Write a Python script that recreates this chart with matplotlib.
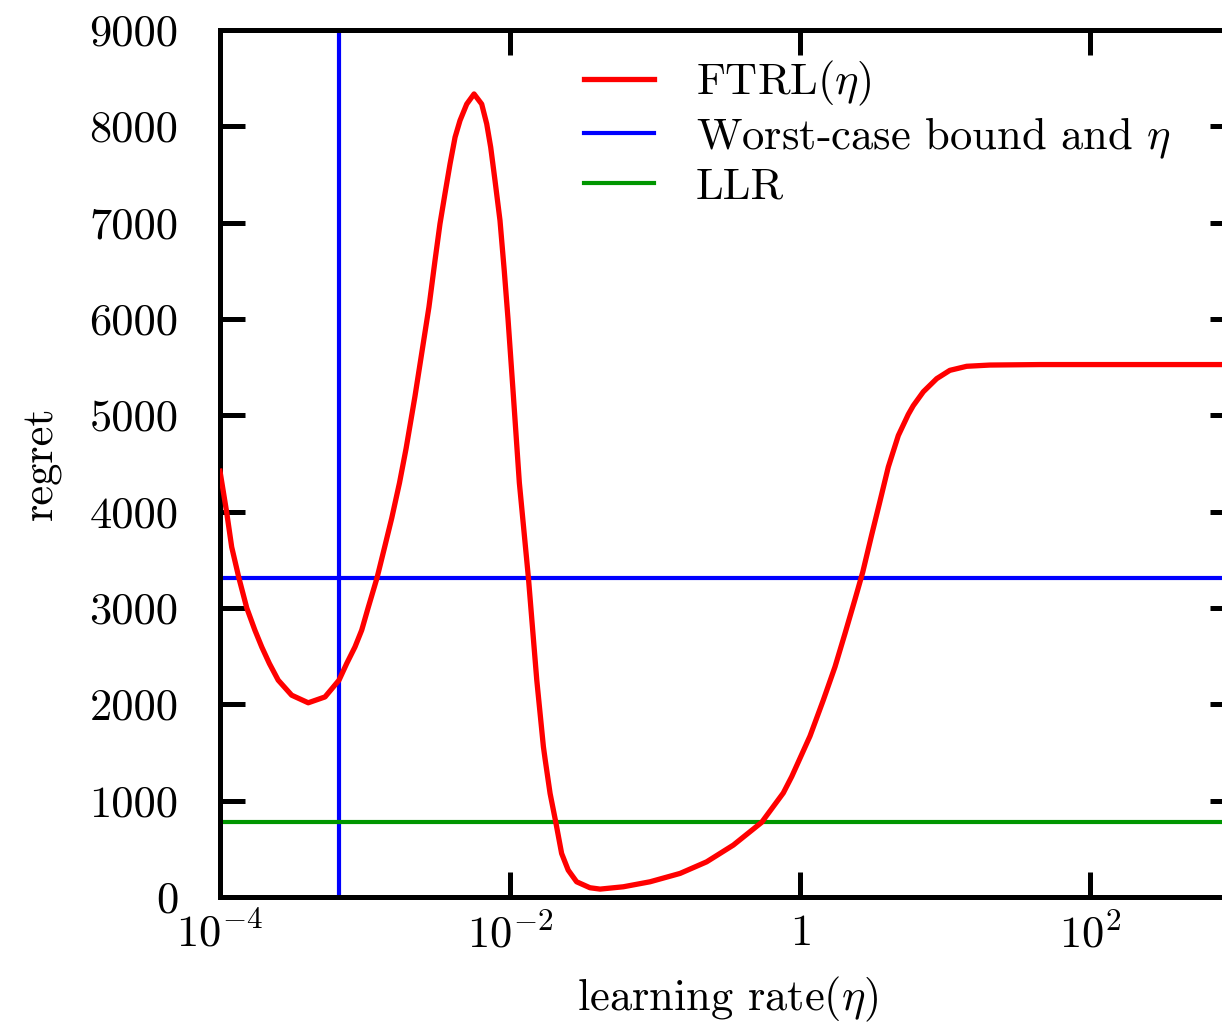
import numpy as np
import matplotlib
matplotlib.use('Agg')
import matplotlib.pyplot as plt
from matplotlib.ticker import FixedLocator, NullLocator

plt.rcParams['font.family'] = 'serif'
plt.rcParams['font.serif'] = ['cmr10']
plt.rcParams['mathtext.fontset'] = 'cm'
plt.rcParams['axes.unicode_minus'] = False
plt.rcParams['axes.formatter.use_mathtext'] = True

# learning rate (eta) and regret of FTRL
eta = [1.00e-4, 1.11e-4, 1.204e-4, 1.35e-4, 1.53e-4, 1.74e-4, 1.94e-4, 2.19e-4,
       2.52e-4, 3.12e-4, 4.06e-4, 5.30e-4, 6.62e-4, 7.48e-4, 8.53e-4, 9.49e-4,
       1.05e-3, 1.21e-3, 1.37e-3, 1.53e-3, 1.73e-3, 1.92e-3, 2.21e-3,
       2.76e-3, 3.04e-3, 3.29e-3, 3.56e-3, 3.86e-3, 4.18e-3, 4.52e-3, 5.03e-3,
       5.65e-3, 6.38e-3, 6.91e-3, 7.36e-3, 7.88e-3, 8.53e-3, 9.13e-3, 9.69e-3,
       1.05e-2, 1.16e-2, 1.34e-2, 1.53e-2, 1.70e-2, 1.75e-2, 1.89e-2, 2.07e-2,
       2.27e-2, 2.52e-2, 2.88e-2, 3.56e-2, 4.18e-2, 6.04e-2, 9.24e-2, 0.149,
       0.227, 0.347, 0.544, 0.767, 0.877, 1.172, 1.448, 1.743, 2.043, 2.395,
       2.706, 3.122, 3.523, 4.064, 4.764, 5.583, 6.04, 7.09, 8.77, 10.8,
       14.1, 20.4, 45.2, 1000.0]
ftrl_regret = [4420, 4000, 3633, 3312, 3000, 2770, 2596, 2424,
               2251, 2095, 2016, 2077, 2251, 2424, 2596, 2770,
               3000, 3312, 3640, 3935, 4300, 4655, 5195,
               6123, 6608, 6989, 7300, 7611, 7887, 8060, 8231,
               8336, 8231, 8025, 7783, 7438, 7023, 6500, 6000,
               5250, 4300, 3312, 2251, 1559, 1421, 1075, 775,
               452, 279, 158, 96, 82, 106, 158, 245,
               365, 539, 775, 1080, 1250, 1670, 2044, 2389, 2735, 3090,
               3370, 3760, 4080, 4464, 4790, 5010, 5100, 5245, 5381, 5467,
               5509, 5522, 5527, 5527]

worst_case_eta = 6.6e-4
worst_case_bound = 3312
llr_regret = 775

x_ticks = [1e-4, 1e-2, 1, 1e2]
x_tick_labels = ['$10^{-4}$', '$10^{-2}$', '$1$', '$10^{2}$']
y_ticks = list(range(0, 9001, 1000))

fig = plt.figure(figsize=(12.22, 10.23), dpi=100)
ax = fig.add_axes([220 / 1222, 1 - 897 / 1023, 1015 / 1222, 867 / 1023])

ax.plot(eta, ftrl_regret, color='#ff0000', lw=3.8, label=r'FTRL($\eta$)',
        solid_joinstyle='round', zorder=3)
ax.axhline(worst_case_bound, color='#0000ff', lw=3.0, label=r'Worst-case bound and $\eta$', zorder=2)
ax.axvline(worst_case_eta, color='#0000ff', lw=3.0, zorder=2)
ax.axhline(llr_regret, color='#009600', lw=3.0, label='LLR', zorder=2)

ax.set_xscale('log')
ax.set_xlim(1e-4, 1e3)
ax.set_ylim(0, 9000)
ax.xaxis.set_major_locator(FixedLocator(x_ticks))
ax.xaxis.set_minor_locator(NullLocator())
ax.set_xticklabels(x_tick_labels)
ax.set_yticks(y_ticks)
ax.set_yticklabels([str(v) for v in y_ticks])

for s in ax.spines.values():
    s.set_linewidth(3.6)
ax.tick_params(axis='both', which='major', direction='in', length=18, width=3.6,
               top=True, right=True, labelsize=32)
ax.tick_params(axis='y', pad=30)
ax.tick_params(axis='x', pad=12)

ax.set_xlabel(r'learning rate($\eta$)', fontsize=32, labelpad=13)
ax.set_ylabel('regret', fontsize=32, labelpad=20)

leg = ax.legend(loc='upper left', bbox_to_anchor=(0.359, 0.967), frameon=False,
                fontsize=32, handlelength=1.56, handletextpad=0.95, labelspacing=0.165,
                borderaxespad=0, borderpad=0)

fig.savefig('out.png', dpi=100)
